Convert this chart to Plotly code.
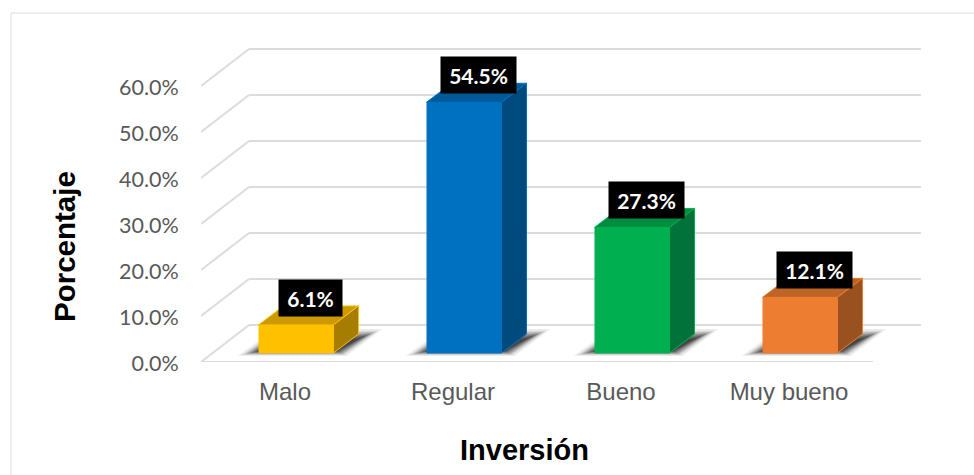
import numpy as np
import plotly.graph_objects as go

categories = ["Malo", "Regular", "Bueno", "Muy bueno"]
values = [6.1, 54.5, 27.3, 12.1]
labels = ["6.1%", "54.5%", "27.3%", "12.1%"]
y_ticks = [0, 10, 20, 30, 40, 50, 60]
y_ticktext = ["0.0%", "10.0%", "20.0%", "30.0%", "40.0%", "50.0%", "60.0%"]
front_colors = ["#FFC000", "#0070C0", "#00B050", "#ED7D31"]
top_colors = ["#CC9A00", "#005A9A", "#008D40", "#BE6427"]
side_colors = ["#A67D00", "#004A7E", "#00723A", "#9A5120"]

UX, UY = 168.0, 4.6           # px per data unit
WALL_DX, WALL_DY = 48 / UX, 37 / UY
BAR_W = 75 / UX
BAR_DX, BAR_DY = 25 / UX, 19 / UY
FRONT_DX, FRONT_DY = 11 / UX, 9 / UY
GRID = "#DCDCDC"
x_left, x_right = -0.5, 3.5

shapes = []
def line(x0, y0, x1, y1):
    shapes.append(dict(type="line", xref="x", yref="y", x0=x0, y0=y0, x1=x1, y1=y1,
                       line=dict(color=GRID, width=2), layer="below"))

for t in y_ticks:
    line(x_left, t, x_left + WALL_DX, t + WALL_DY)
    line(x_left + WALL_DX, t + WALL_DY, x_right + WALL_DX, t + WALL_DY)
line(x_left, 0, x_right, 0)

outer = np.array([(-21, -3), (0, 12), (99, 24), (124, 24), (88, -3)], float)
inner = np.array([(0, 2), (6, 5), (99, 14), (104, 16), (78, 2)], float)
for i in range(len(categories)):
    x0 = i + FRONT_DX - BAR_W / 2
    for t in np.linspace(0, 1, 16) ** 0.6:
        p = outer * (1 - t) + inner * t
        xs = x0 + p[:, 0] / UX
        ys = FRONT_DY + p[:, 1] / UY
        path = "M " + " L ".join(f"{a:.4f},{b:.4f}" for a, b in zip(xs, ys)) + " Z"
        shapes.append(dict(type="path", xref="x", yref="y", path=path,
                           fillcolor="rgba(0,0,0,0.075)", line=dict(width=0), layer="below"))

# chart frame (top and left edges visible only)
shapes.append(dict(type="rect", xref="paper", yref="paper",
                   x0=(11 - 201) / 720, x1=1.2, y0=-1, y1=(362 - 13) / 322,
                   line=dict(color=GRID, width=1), layer="below"))

fig = go.Figure()
fig.add_trace(go.Bar(
    x=[i + FRONT_DX for i in range(4)], y=values, base=FRONT_DY, width=BAR_W - 1 / UX,
    marker=dict(color=front_colors, line=dict(color=front_colors, width=1)),
    hoverinfo="skip", showlegend=False))

for i, v in enumerate(values):
    x0 = i + FRONT_DX - BAR_W / 2
    x1 = x0 + BAR_W
    b = FRONT_DY
    top = b + v
    fig.add_trace(go.Scatter(
        x=[x0, x1, x1 + BAR_DX, x0 + BAR_DX, x0], y=[top, top, top + BAR_DY, top + BAR_DY, top],
        mode="lines", fill="toself", fillcolor=top_colors[i],
        line=dict(color=front_colors[i], width=1), hoverinfo="skip", showlegend=False))
    fig.add_trace(go.Scatter(
        x=[x1, x1 + BAR_DX, x1 + BAR_DX, x1, x1], y=[b, b + BAR_DY, top + BAR_DY, top, b],
        mode="lines", fill="toself", fillcolor=side_colors[i],
        line=dict(color=front_colors[i], width=1), hoverinfo="skip", showlegend=False))

annotations = []
for i, (v, txt) in enumerate(zip(values, labels)):
    annotations.append(dict(
        x=i + FRONT_DX, y=v + FRONT_DY, xref="x", yref="y", text=f"<b>{txt}</b>", showarrow=False,
        xshift=14, yshift=27, bgcolor="#000000", width=12 * len(txt) + 13, height=34,
        font=dict(family="Lato", size=21, color="#FFFFFF"), align="center", valign="middle"))
annotations.append(dict(xref="paper", yref="paper", x=(524 - 201) / 720, y=(362 - 450) / 322,
                        text="<b>Inversión</b>", showarrow=False, xanchor="center", yanchor="middle",
                        font=dict(family="Liberation Sans", size=29, color="#000000")))
annotations.append(dict(xref="paper", yref="paper", x=(65 - 201) / 720, y=(362 - 247) / 322,
                        text="<b>Porcentaje</b>", showarrow=False, xanchor="center", yanchor="middle",
                        textangle=-90, font=dict(family="Liberation Sans", size=29.5, color="#000000")))

fig.update_layout(
    width=974, height=475, autosize=False, showlegend=False,
    margin=dict(l=201, r=53, t=40, b=113, pad=0),
    paper_bgcolor="#FFFFFF", plot_bgcolor="rgba(0,0,0,0)",
    shapes=shapes, annotations=annotations,
    xaxis=dict(range=[x_left, x_left + 720 / UX], tickmode="array", tickvals=[0, 1, 2, 3], ticktext=categories,
               showgrid=False, zeroline=False, showline=False, ticks="outside", ticklen=8,
               tickcolor="rgba(0,0,0,0)", tickfont=dict(family="Liberation Sans", size=24, color="#595959")),
    yaxis=dict(range=[0, 70], tickmode="array", tickvals=y_ticks, ticktext=y_ticktext,
               showgrid=False, zeroline=False, showline=False, ticks="outside", ticklen=17,
               ticklabelshift=1,
               tickcolor="rgba(0,0,0,0)", tickfont=dict(family="Lato", size=21.5, color="#595959")),
)
fig.write_html("out.html", config=dict(displayModeBar=False),
               post_script="document.body.style.margin='0';document.documentElement.style.overflow='hidden';")
